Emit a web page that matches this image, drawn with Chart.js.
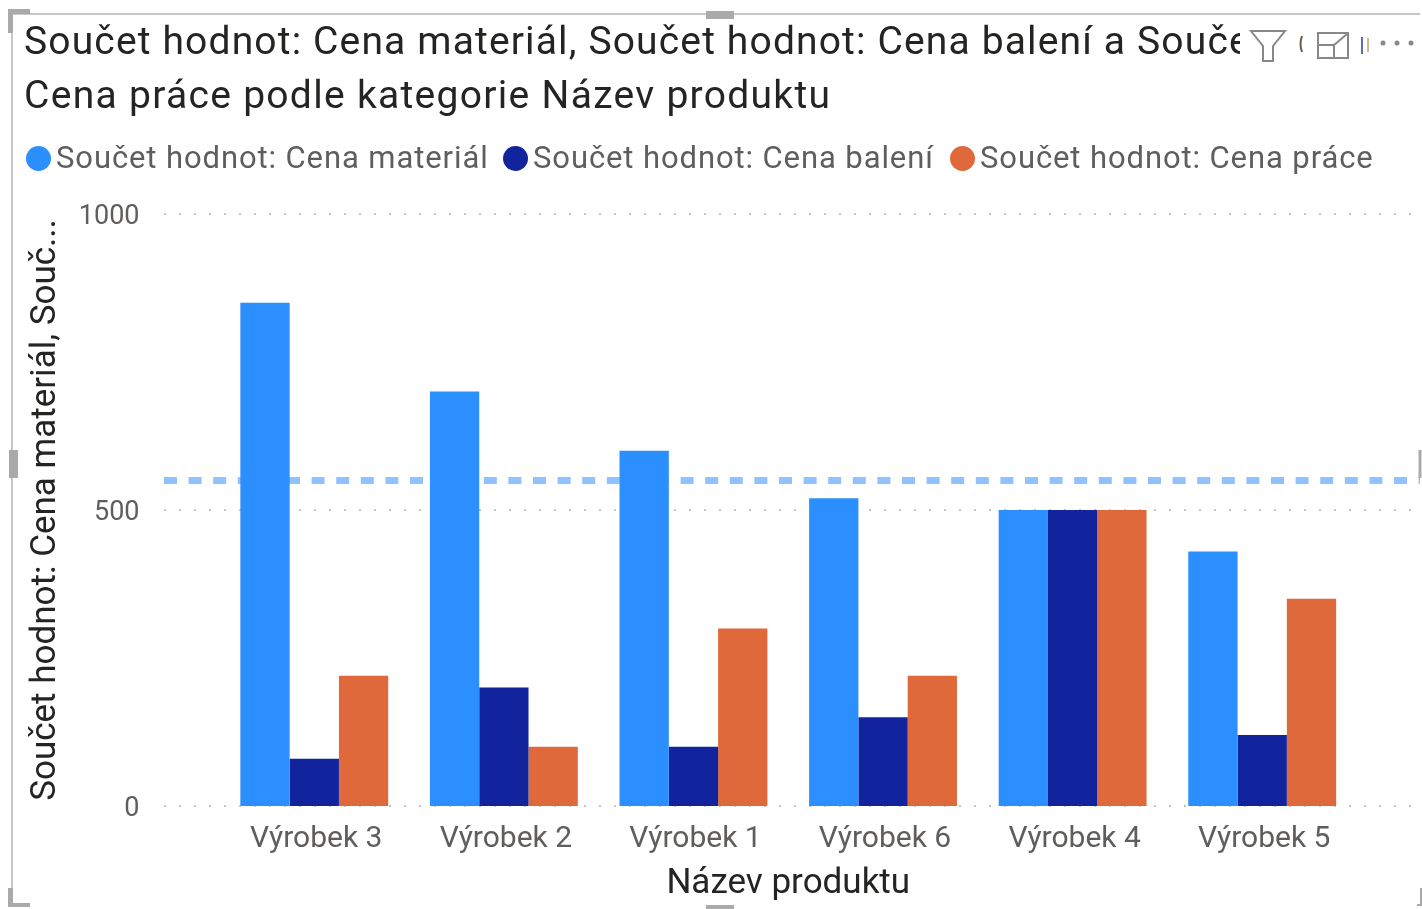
<!DOCTYPE html>
<html>
<head>
<meta charset="utf-8">
<script src="https://cdn.jsdelivr.net/npm/chart.js@4"></script>
<style>
  html, body { margin: 0; padding: 0; background: #fff; }
  #wrap { position: relative; width: 1422px; height: 909px; overflow: hidden; }
  #chart { position: absolute; left: 0; top: 0; }
  #frame { position: absolute; left: 0; top: 0; }
  .title { position: absolute; left: 24px; color: #252423; font: 39px/1 Roboto, sans-serif; white-space: nowrap; letter-spacing: 1.3px; }
  #title1 { top: 22px; width: 1216px; overflow: hidden; letter-spacing: 1.15px; }
  #title2 { top: 76px; }
  .legendItem { position: absolute; top: 140px; color: #605E5C; font: 31px/36px Roboto, sans-serif; white-space: nowrap; letter-spacing: 0.9px; }
  .legendDot { position: absolute; top: 146px; width: 25px; height: 25px; border-radius: 50%; }
</style>
</head>
<body>
<div id="wrap">
  <canvas id="chart" width="1422" height="909"></canvas>
  <div class="title" id="title1"></div>
  <div class="title" id="title2"></div>
  <div id="legend"></div>
  <svg id="frame" width="1422" height="909" fill="none">
    <!-- visual border + handles -->
    <path d="M12 905V14H1420" stroke="#c8c8c8" stroke-width="2"/>
    <path d="M8 9H30V14H13V33H8Z" fill="#aaa"/>
    <path d="M8 907V888H13V903H30V907Z" fill="#aaa"/>
    <rect x="706" y="11" width="28" height="8" fill="#aaa"/>
    <rect x="706" y="905" width="28" height="4" fill="#aaa"/>
    <rect x="9" y="450" width="9" height="28" fill="#aaa"/>
    <path d="M1420 450V478" stroke="#aaa" stroke-width="3"/>
    <path d="M1417 905H1421V888" stroke="#aaa" stroke-width="2"/>
    <!-- filter icon -->
    <path d="M1251 31H1285L1273 46V61H1263V46Z" stroke="#8a8886" stroke-width="2"/>
    <!-- clipped title letters showing between the icons -->
    <path d="M1302 36Q1299 44 1302 52" stroke="#6a5a50" stroke-width="2"/>
    <path d="M1362 37V54" stroke="#2a3a90" stroke-width="1.5"/>
    <path d="M1368 38V52" stroke="#c8a070" stroke-width="1.5"/>
    <!-- focus icon -->
    <path d="M1318 45V33H1348V58H1334M1318 45H1334V58H1318V45M1334 45L1347 34M1339 33H1348V41" stroke="#8a8886" stroke-width="2"/>
    <!-- dots -->
    <circle cx="1383" cy="43" r="2.5" fill="#8a8886"/><circle cx="1397" cy="43" r="2.5" fill="#8a8886"/><circle cx="1411" cy="43" r="2.5" fill="#8a8886"/>
  </svg>
</div>
<script>
// Data
const categories = ['Výrobek 3', 'Výrobek 2', 'Výrobek 1', 'Výrobek 6', 'Výrobek 4', 'Výrobek 5'];
const seriesNames = ['Součet hodnot: Cena materiál', 'Součet hodnot: Cena balení', 'Součet hodnot: Cena práce'];
const material = [850, 700, 600, 520, 500, 430];
const baleni = [80, 200, 100, 150, 500, 120];
const prace = [220, 100, 300, 220, 500, 350];
const yTicks = [0, 500, 1000];
const averageLine = 550;

const titleLines = [
  'Součet hodnot: Cena materiál, Součet hodnot: Cena balení a Součet hodnot:',
  'Cena práce podle kategorie Název produktu'
];
const yTitle = 'Součet hodnot: Cena materiál, Souč...';
const xTitle = 'Název produktu';
const colors = ['#2B8FFF', '#12239E', '#E0693B'];

document.getElementById('title1').textContent = titleLines[0];
document.getElementById('title2').textContent = titleLines[1];

// Legend - Power BI spacing is tighter than the built in one
const legendX = [[26, 56], [503, 533], [950, 980]];
const legendEl = document.getElementById('legend');
seriesNames.forEach((name, i) => {
  const dot = document.createElement('div');
  dot.className = 'legendDot';
  dot.style.left = legendX[i][0] + 'px';
  dot.style.background = colors[i];
  legendEl.appendChild(dot);
  const label = document.createElement('div');
  label.className = 'legendItem';
  label.style.left = legendX[i][1] + 'px';
  label.textContent = name;
  legendEl.appendChild(label);
});

// Gridlines and the average line run wider than the category bands
const extendedLines = {
  id: 'extendedLines',
  beforeDatasetsDraw(chart) {
    const y = chart.scales.y, c = chart.ctx;
    c.save();
    c.strokeStyle = '#c4c4c4';
    c.lineWidth = 2;
    c.setLineDash([2, 13]);
    yTicks.forEach(t => {
      const py = Math.round(y.getPixelForValue(t));
      c.beginPath();
      c.moveTo(164, py);
      c.lineTo(1420, py);
      c.stroke();
    });
    c.strokeStyle = '#8FC2FF';
    c.lineWidth = 7;
    c.setLineDash([13, 11.6]);
    const avg = y.getPixelForValue(averageLine);
    c.beginPath();
    c.moveTo(164, avg);
    c.lineTo(1420, avg);
    c.stroke();
    c.restore();
  }
};

const ctx = document.getElementById('chart').getContext('2d');
new Chart(ctx, {
  type: 'bar',
  data: {
    labels: categories,
    datasets: [
      { label: seriesNames[0], data: material, backgroundColor: colors[0] },
      { label: seriesNames[1], data: baleni, backgroundColor: colors[1] },
      { label: seriesNames[2], data: prace, backgroundColor: colors[2] }
    ]
  },
  options: {
    responsive: false,
    animation: false,
    layout: { padding: { top: 214, right: 65, bottom: 0, left: 0 } },
    plugins: { legend: { display: false }, title: { display: false }, tooltip: { enabled: false } },
    datasets: { bar: { barPercentage: 1, categoryPercentage: 0.78 } },
    scales: {
      x: {
        grid: { display: false },
        border: { display: false },
        ticks: { color: '#605E5C', font: { family: 'Roboto', size: 30 }, padding: 7, labelOffset: 2, maxRotation: 0 },
        title: { display: true, text: xTitle, color: '#252423', font: { family: 'Roboto', size: 35 }, padding: { top: 6, bottom: 4 } },
        afterFit(scale) { scale.height = 103; }
      },
      y: {
        min: 0,
        max: 1000,
        afterBuildTicks(scale) { scale.ticks = yTicks.map(v => ({ value: v })); },
        grid: { display: false },
        border: { display: false },
        ticks: { color: '#605E5C', font: { family: 'Roboto', size: 27 }, padding: 72, labelOffset: 3, callback: v => String(v) },
        title: { display: true, text: yTitle, color: '#252423', font: { family: 'Roboto', size: 35 }, padding: { top: 25, bottom: 0 } },
        afterFit(scale) { scale.width = 219.5; }
      }
    }
  },
  plugins: [extendedLines]
});
</script>
</body>
</html>
